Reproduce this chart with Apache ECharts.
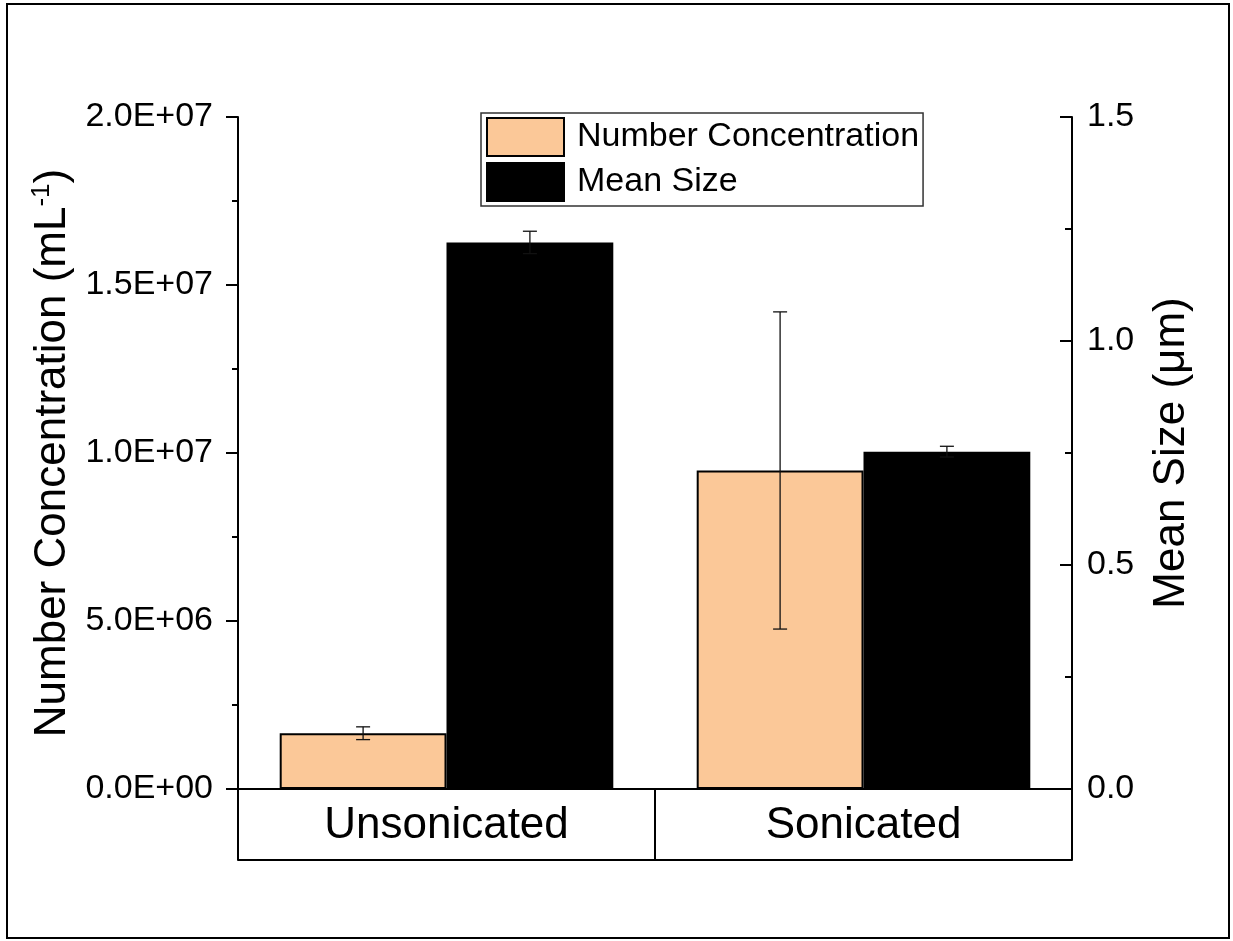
<!DOCTYPE html>
<html>
<head>
<meta charset="utf-8">
<title>Number Concentration / Mean Size</title>
<script src="https://cdn.jsdelivr.net/npm/echarts@6/dist/echarts.min.js"></script>
<style>
    html, body { margin: 0; padding: 0; background: #fff; }
    #chart { width: 1233px; height: 941px; }
</style>
</head>
<body>
<div id="chart"></div>
<script>
// categories
var categories = ['Unsonicated', 'Sonicated'];

// number concentration (mL-1), left axis
var concValues = [1.66e6, 9.48e6];
var concErrors = [0.19e6, 4.72e6];

// mean size (um), right axis
var sizeValues = [1.22, 0.753];
var sizeErrors = [0.025, 0.012];

// tick settings
var concMax = 2e7, concInterval = 5e6;
var sizeMax = 1.5, sizeInterval = 0.5;

var FONT = 'Liberation Sans, Arial, sans-serif';
var ORANGE = '#FBC898';

// 2.0E+07 style labels
function sciLabel(v) {
    if (v === 0) return '0.0E+00';
    var e = Math.floor(Math.log10(v) + 1e-9);
    var m = v / Math.pow(10, e);
    return m.toFixed(1) + 'E+' + (e < 10 ? '0' + e : e);
}

// error bar drawer, offset = bar centre as fraction of band width
function errorBar(offset) {
    return function (params, api) {
        var idx = api.value(0);
        var val = api.value(1);
        var err = api.value(2);
        var band = api.size([1, 0])[0];
        var x = api.coord([idx, val])[0] + offset * band;
        var yTop = api.coord([idx, val + err])[1];
        var yBot = api.coord([idx, val - err])[1];
        var half = 7;
        var style = { stroke: '#111', lineWidth: 1.3 };
        return {
            type: 'group',
            children: [
                { type: 'line', shape: { x1: x, y1: yTop, x2: x, y2: yBot }, style: style },
                { type: 'line', shape: { x1: x - half, y1: yTop, x2: x + half, y2: yTop }, style: style },
                { type: 'line', shape: { x1: x - half, y1: yBot, x2: x + half, y2: yBot }, style: style }
            ]
        };
    };
}

function errData(vals, errs) {
    var res = [];
    for (var i = 0; i < vals.length; i++) {
        res.push([i, vals[i], errs[i]]);
    }
    return res;
}

var myChart = echarts.init(document.getElementById('chart'));

var option = {
    backgroundColor: '#fff',
    animation: false,
    textStyle: { fontFamily: FONT, color: '#000' },
    grid: { left: 238, right: 161, top: 117, bottom: 152 },
    legend: {
        data: ['Number Concentration', 'Mean Size'],
        orient: 'vertical',
        left: 481,
        top: 113,
        padding: [4, 4, 4, 5],
        itemGap: 5,
        itemWidth: 77,
        itemHeight: 38,
        icon: 'rect',
        borderColor: '#333',
        borderWidth: 1.5,
        selectedMode: false,
        textStyle: { fontFamily: FONT, fontSize: 34, color: '#000', padding: [0, 0, 0, 8] }
    },
    xAxis: [{
        // bottom of the plot + category cell dividers
        type: 'category',
        data: categories,
        position: 'bottom',
        axisLine: { show: true, lineStyle: { color: '#000', width: 2 } },
        axisTick: { show: true, inside: false, length: 71, lineStyle: { color: '#000', width: 2 } },
        axisLabel: { fontFamily: FONT, fontSize: 44, color: '#000', margin: 37, verticalAlign: 'middle' },
        splitLine: { show: false }
    }, {
        // bottom line of the category table
        type: 'category',
        data: categories,
        position: 'bottom',
        offset: 71,
        axisLine: { show: true, onZero: false, lineStyle: { color: '#000', width: 2 } },
        axisTick: { show: false },
        axisLabel: { show: false },
        splitLine: { show: false }
    }],
    yAxis: [{
        type: 'value',
        min: 0,
        max: concMax,
        interval: concInterval,
        position: 'left',
        name: 'Number Concentration (mL{sup|-1})',
        nameLocation: 'middle',
        nameRotate: 90,
        nameGap: 158,
        nameTextStyle: {
            fontFamily: FONT, fontSize: 44, color: '#000',
            rich: { sup: { fontFamily: FONT, fontSize: 26, color: '#000', verticalAlign: 'top', padding: [0, 0, 22, 0] } }
        },
        axisLine: { show: true, lineStyle: { color: '#000', width: 2 } },
        axisTick: { show: true, inside: false, length: 12, lineStyle: { color: '#000', width: 2 } },
        minorTick: { show: true, splitNumber: 2, length: 6, lineStyle: { color: '#000', width: 2 } },
        axisLabel: { fontFamily: FONT, fontSize: 34, color: '#000', margin: 25, formatter: sciLabel },
        splitLine: { show: false }
    }, {
        type: 'value',
        min: 0,
        max: sizeMax,
        interval: sizeInterval,
        position: 'right',
        name: 'Mean Size (μm)',
        nameLocation: 'middle',
        nameRotate: 90,
        nameGap: 78,
        nameTextStyle: { fontFamily: FONT, fontSize: 44, color: '#000' },
        axisLine: { show: true, lineStyle: { color: '#000', width: 2 } },
        axisTick: { show: true, inside: true, length: 12, lineStyle: { color: '#000', width: 2 } },
        minorTick: { show: true, splitNumber: 2, length: 7, lineStyle: { color: '#000', width: 2 } },
        axisLabel: {
            fontFamily: FONT, fontSize: 34, color: '#000', margin: 15,
            formatter: function (v) { return v.toFixed(1); }
        },
        splitLine: { show: false }
    }],
    series: [{
        name: 'Number Concentration',
        type: 'bar',
        xAxisIndex: 0,
        yAxisIndex: 0,
        barGap: '0%',
        barCategoryGap: '20%',
        data: concValues,
        itemStyle: { color: ORANGE, borderColor: '#000', borderWidth: 2 }
    }, {
        name: 'Mean Size',
        type: 'bar',
        xAxisIndex: 0,
        yAxisIndex: 1,
        barGap: '0%',
        barCategoryGap: '20%',
        data: sizeValues,
        itemStyle: { color: '#000', borderColor: '#000', borderWidth: 2 }
    }, {
        // error bars on number concentration
        type: 'custom',
        xAxisIndex: 0,
        yAxisIndex: 0,
        z: 5,
        renderItem: errorBar(-0.2),
        encode: { x: 0, y: 1 },
        data: errData(concValues, concErrors)
    }, {
        // error bars on mean size
        type: 'custom',
        xAxisIndex: 0,
        yAxisIndex: 1,
        z: 5,
        renderItem: errorBar(0.2),
        encode: { x: 0, y: 1 },
        data: errData(sizeValues, sizeErrors)
    }],
    graphic: [{
        // outer frame of the figure
        type: 'rect',
        shape: { x: 7, y: 4, width: 1222, height: 934 },
        style: { fill: 'none', stroke: '#000', lineWidth: 2 },
        silent: true
    }]
};

myChart.setOption(option);
</script>
</body>
</html>
